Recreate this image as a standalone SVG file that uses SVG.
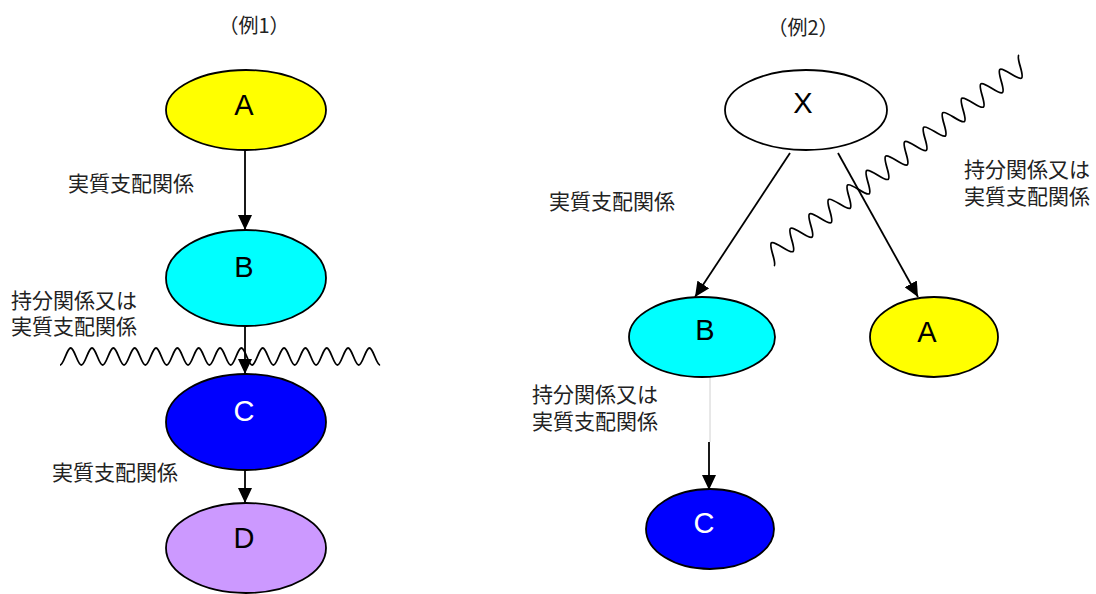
<svg xmlns="http://www.w3.org/2000/svg" width="1096" height="594" viewBox="0 0 1096 594">
<style>
.nd{stroke:#000;stroke-width:1.8}
.lt{font-family:"Liberation Sans",Arial,sans-serif;font-size:29px;text-anchor:middle;fill:#000}
.lb{font-family:"Noto Sans CJK JP","Noto Sans CJK SC",sans-serif;font-size:21px;fill:#222}
.tt{font-family:"Noto Sans CJK JP","Noto Sans CJK SC",sans-serif;font-size:20px;fill:#222;text-anchor:middle}
.cn{stroke:#000;stroke-width:1.8;fill:none}
.wv{stroke:#000;stroke-width:1.8;fill:none}
</style>
<defs>
<marker id="arr" markerUnits="userSpaceOnUse" markerWidth="15" markerHeight="14" refX="15" refY="7" orient="auto" viewBox="0 0 15 14">
<path d="M0,0 L15,7 L0,14 z" fill="#000"/>
</marker>
</defs>
<rect width="1096" height="594" fill="#fff"/>

<text class="tt" x="254" y="33">（例1）</text>
<text class="tt" x="803" y="35">（例2）</text>

<g id="connectors">
<line class="cn" x1="245" y1="150" x2="245" y2="230" marker-end="url(#arr)"/>
<line class="cn" x1="245" y1="326" x2="245" y2="374" marker-end="url(#arr)"/>
<line class="cn" x1="245" y1="470" x2="245" y2="503" marker-end="url(#arr)"/>
<line class="cn" x1="790" y1="153" x2="695" y2="297" marker-end="url(#arr)"/>
<line class="cn" x1="838" y1="153" x2="918" y2="297" marker-end="url(#arr)"/>
<line x1="710" y1="377" x2="710" y2="442" stroke="#d0d0d0" stroke-width="1"/>
<line class="cn" x1="709" y1="442" x2="709" y2="490" marker-end="url(#arr)"/>
</g>

<g id="waves">
<path class="wv" d="M60,365 c3.84,0 6.83,-17 10.67,-17 s6.83,17 10.67,17 s6.83,-17 10.67,-17 s6.83,17 10.67,17 s6.83,-17 10.67,-17 s6.83,17 10.67,17 s6.83,-17 10.67,-17 s6.83,17 10.67,17 s6.83,-17 10.67,-17 s6.83,17 10.67,17 s6.83,-17 10.67,-17 s6.83,17 10.67,17 s6.83,-17 10.67,-17 s6.83,17 10.67,17 s6.83,-17 10.67,-17 s6.83,17 10.67,17 s6.83,-17 10.67,-17 s6.83,17 10.67,17 s6.83,-17 10.67,-17 s6.83,17 10.67,17 s6.83,-17 10.67,-17 s6.83,17 10.67,17 s6.83,-17 10.67,-17 s6.83,17 10.67,17 s6.83,-17 10.67,-17 s6.83,17 10.67,17 s6.83,-17 10.67,-17 s6.83,17 10.67,17 s6.83,-17 10.67,-17 s6.83,17 10.67,17"/>
<path class="wv" transform="translate(768,258) rotate(-37.2)" d="M0,10 c4.3,0 7.65,-20 11.95,-20 s7.65,20 11.95,20 s7.65,-20 11.95,-20 s7.65,20 11.95,20 s7.65,-20 11.95,-20 s7.65,20 11.95,20 s7.65,-20 11.95,-20 s7.65,20 11.95,20 s7.65,-20 11.95,-20 s7.65,20 11.95,20 s7.65,-20 11.95,-20 s7.65,20 11.95,20 s7.65,-20 11.95,-20 s7.65,20 11.95,20 s7.65,-20 11.95,-20 s7.65,20 11.95,20 s7.65,-20 11.95,-20 s7.65,20 11.95,20 s7.65,-20 11.95,-20 s7.65,20 11.95,20 s7.65,-20 11.95,-20 s7.65,20 11.95,20 s7.65,-20 11.95,-20 s7.65,20 11.95,20 s7.65,-20 11.95,-20 s7.65,20 11.95,20 s7.65,-20 11.95,-20"/>
</g>

<g id="labels">
<text class="lb" x="68" y="191">実質支配関係</text>
<text class="lb" x="11" y="308">持分関係又は<tspan x="11" dy="26">実質支配関係</tspan></text>
<text class="lb" x="52" y="480">実質支配関係</text>
<text class="lb" x="549" y="209">実質支配関係</text>
<text class="lb" x="964" y="177">持分関係又は<tspan x="964" dy="27">実質支配関係</tspan></text>
<text class="lb" x="532" y="402">持分関係又は<tspan x="532" dy="27">実質支配関係</tspan></text>
</g>

<g id="ex1-A"><ellipse class="nd" cx="246" cy="110" rx="80" ry="40" fill="#ffff00"/><text class="lt" x="244" y="115">A</text></g>
<g id="ex1-B"><ellipse class="nd" cx="246" cy="278" rx="80" ry="48" fill="#00ffff"/><text class="lt" x="244" y="277">B</text></g>
<g id="ex1-C"><ellipse class="nd" cx="246" cy="422" rx="80" ry="48" fill="#0000ff"/><text class="lt" x="244" y="421" style="fill:#fff">C</text></g>
<g id="ex1-D"><ellipse class="nd" cx="246" cy="548" rx="80" ry="45" fill="#cc99ff"/><text class="lt" x="244" y="548">D</text></g>

<g id="ex2-X"><ellipse class="nd" cx="806" cy="110" rx="81" ry="40" fill="#fff"/><text class="lt" x="803" y="113">X</text></g>
<g id="ex2-B"><ellipse class="nd" cx="702" cy="337" rx="73" ry="40" fill="#00ffff"/><text class="lt" x="705" y="340">B</text></g>
<g id="ex2-A"><ellipse class="nd" cx="934" cy="337" rx="64" ry="40" fill="#ffff00"/><text class="lt" x="927" y="342">A</text></g>
<g id="ex2-C"><ellipse class="nd" cx="710" cy="529" rx="64" ry="40" fill="#0000ff"/><text class="lt" x="704" y="533" style="fill:#fff">C</text></g>
</svg>
